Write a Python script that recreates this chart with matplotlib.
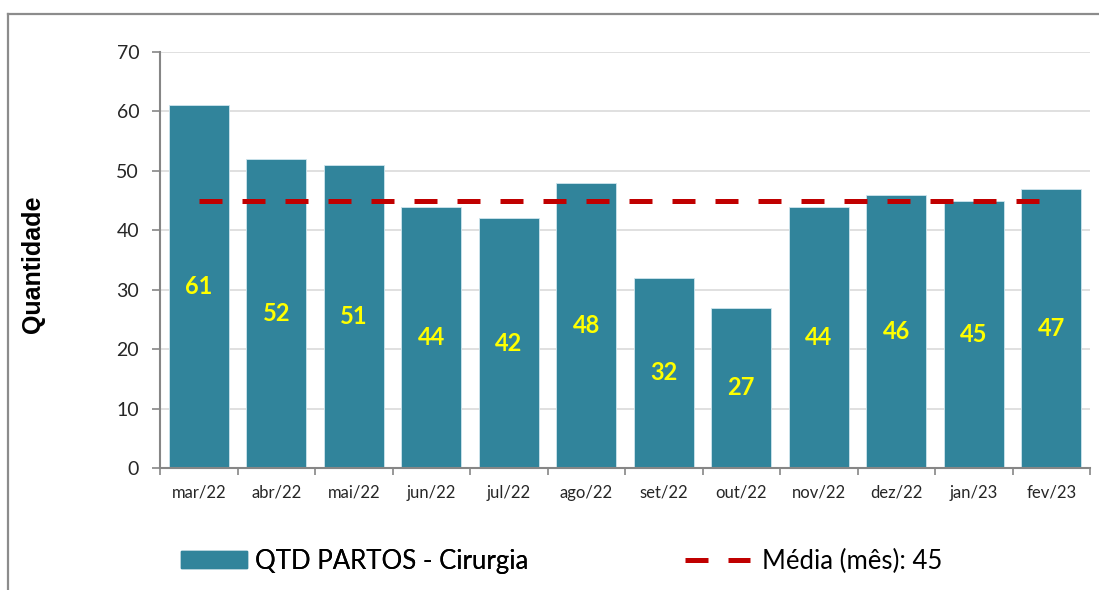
import matplotlib
matplotlib.use("Agg")
import matplotlib.pyplot as plt
from matplotlib.lines import Line2D
from matplotlib.patches import Patch
import numpy as np

months = ["mar/22", "abr/22", "mai/22", "jun/22", "jul/22", "ago/22",
          "set/22", "out/22", "nov/22", "dez/22", "jan/23", "fev/23"]
partos = [61, 52, 51, 44, 42, 48, 32, 27, 44, 46, 45, 47]
media = 45
yticks = [0, 10, 20, 30, 40, 50, 60, 70]

bar_color = "#31849B"
W, H = 1099, 590
fig = plt.figure(figsize=(W / 100, H / 100), dpi=100)
ax = fig.add_axes([160 / W, 1 - 468 / H, (1090 - 160) / W, (468 - 52) / H])

x = np.arange(len(months))
bars = ax.bar(x, partos, width=0.775, color=bar_color, edgecolor="#CFE6EE",
              linewidth=0.6, zorder=2)
ax.plot([x[0], x[-1]], [media, media], color="#C00000", lw=3.6,
        dashes=(4.6, 4.0), solid_capstyle="butt", dash_capstyle="butt", zorder=3)

ax.bar_label(bars, labels=[str(v) for v in partos], label_type="center",
             color="#FFFF00", fontsize=17, fontweight="bold", family="Lato")

ax.set_xlim(-0.5, len(months) - 0.5)
ax.set_ylim(0, 70)
ax.set_yticks(yticks)
ax.set_yticklabels([str(t) for t in yticks], family="Lato", fontsize=14, color="#262626")
ax.set_xticks(x)
ax.set_xticklabels(months, family="Lato", fontsize=12, color="#262626")
ax.set_xticks(np.arange(-0.5, len(months)), minor=True)
ax.tick_params(axis="x", which="major", length=0, pad=12)
ax.tick_params(axis="x", which="minor", length=5, width=1.2, color="#868686", direction="out")
ax.tick_params(axis="y", which="major", length=6, width=1.2, color="#868686", pad=9)

ax.grid(axis="y", color="#DDDDDD", lw=1.3, zorder=0)
ax.set_axisbelow(True)
for s in ["top", "right"]:
    ax.spines[s].set_visible(False)
for s in ["left", "bottom"]:
    ax.spines[s].set_color("#868686")
    ax.spines[s].set_linewidth(1.5)

fig.text(33 / W, 1 - 264 / H, "Quantidade", rotation=90, ha="center", va="center",
         fontsize=18, fontweight="bold", family="Liberation Sans", color="black")

# legend
h1 = Patch(facecolor=bar_color, edgecolor=bar_color)
leg1 = fig.legend([h1], ["QTD PARTOS - Cirurgia"], loc="center left",
                  bbox_to_anchor=(181 / W, 1 - 561 / H), frameon=False,
                  prop={"family": "Lato", "size": 18.5}, handlelength=2.57,
                  handleheight=0.62, handletextpad=0.31, borderaxespad=0, borderpad=0)
h2 = Line2D([0], [0], color="#C00000", lw=3.6, dashes=(4.6, 4.0), dash_capstyle="butt")
leg2 = fig.legend([h2], ["Média (mês): 45"], loc="center left",
                  bbox_to_anchor=(685 / W, 1 - 561 / H), frameon=False,
                  prop={"family": "Lato", "size": 18.5}, handlelength=2.53,
                  handletextpad=0.47, borderaxespad=0, borderpad=0)
fig.add_artist(leg1)

# outer frame (partial)
fig.add_artist(Line2D([8 / W, 8 / W], [0, 1 - 14 / H], transform=fig.transFigure,
                      color="#8C8C8C", lw=1.6))
fig.add_artist(Line2D([8 / W, 1], [1 - 14 / H, 1 - 14 / H], transform=fig.transFigure,
                      color="#8C8C8C", lw=1.6))

fig.savefig("out.png", dpi=100)
